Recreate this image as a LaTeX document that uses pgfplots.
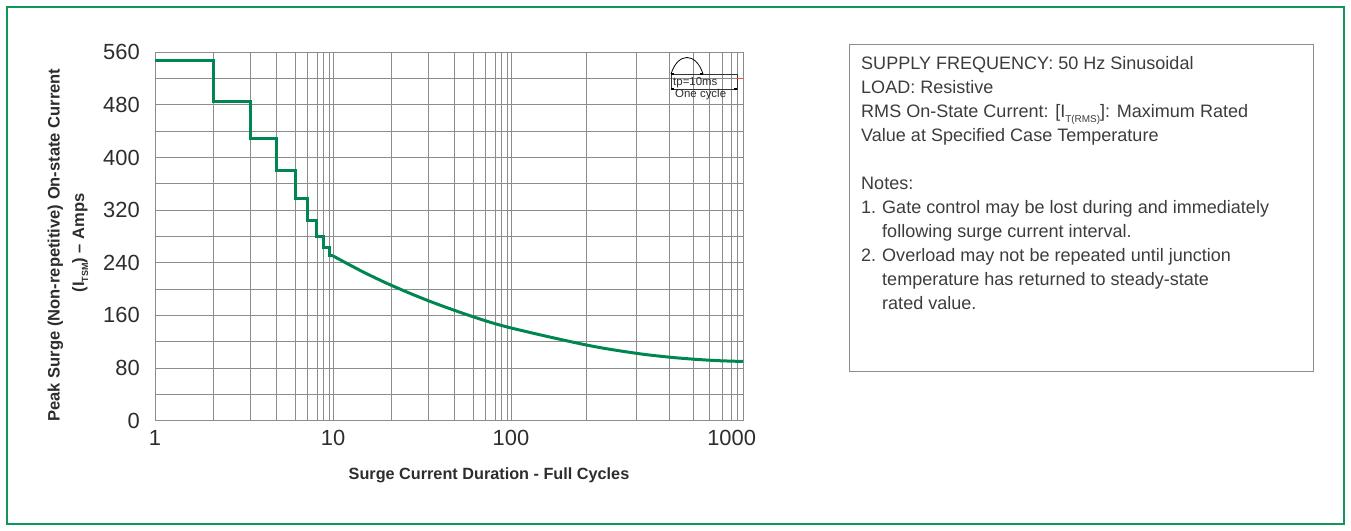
\documentclass[border=0pt]{standalone}
\usepackage{pgfplots}
\pgfplotsset{compat=1.18}
\usepackage{fontspec}
\setmainfont{Liberation Sans}
\definecolor{curvegreen}{RGB}{0,135,81}
\definecolor{framegreen}{RGB}{20,150,90}
\definecolor{gridgray}{RGB}{140,140,140}
\definecolor{txt}{RGB}{45,45,45}
\definecolor{notetxt}{RGB}{60,60,60}
\begin{document}
\begin{tikzpicture}[x=1bp,y=1bp]
\path (0,0) rectangle (1351,531);
\draw[framegreen, line width=1.5bp] (7,7) rectangle (1344,524);
\begin{axis}[
  at={(155bp,110.3bp)}, anchor=south west,
  scale only axis, width=588bp, height=368.4bp,
  x coord trafo/.code={%
    \pgfmathparse{log10(#1)}\let\mylx\pgfmathresult
    \pgfmathparse{floor(\mylx+0.0001)}\let\mydd\pgfmathresult
    \pgfmathparse{#1/(10^\mydd)}\let\mymm\pgfmathresult
    \pgfmathparse{\mymm<2 ? 0.326*(\mymm-1) : (\mymm<3 ? 0.326+0.213*(\mymm-2) : (\mymm<4 ? 0.539+0.146*(\mymm-3) : (\mymm<5 ? 0.685+0.102*(\mymm-4) : (\mymm<6 ? 0.787+0.067*(\mymm-5) : (\mymm<7 ? 0.854+0.056*(\mymm-6) : (\mymm<8 ? 0.910+0.039*(\mymm-7) : (\mymm<9 ? 0.949+0.029*(\mymm-8) : 0.978+0.022*(\mymm-9))))))))}\let\mypp\pgfmathresult
    \pgfmathparse{\mydd<2 ? \mydd+\mypp : 2+1.3034*(\mydd-2+\mypp)}%
  },
  xmin=1, xmax=1000, ymin=0, ymax=560,
  xtick={1,10,100,1000},
  xticklabels={1,10,100,{\makebox[26bp][r]{1000}}},
  minor xtick={2,3,4,5,6,7,8,9,20,30,40,50,60,70,80,90,200,300,400,500,600,700,800,900},
  ytick={0,80,...,560},
  minor ytick={40,120,...,520},
  grid=both,
  major grid style={gridgray, line width=0.9bp},
  minor grid style={gridgray, line width=0.9bp},
  axis line style={gridgray, line width=0.9bp},
  major tick length=0pt, minor tick length=0pt,
  /pgf/number format/assume math mode=true,
  tick label style={font=\fontsize{22}{22}\selectfont, text=txt, inner sep=0pt},
  yticklabel style={xshift=-15bp},
  xticklabel style={yshift=-9.3bp},
  xlabel={\bfseries Surge Current Duration - Full Cycles},
  xlabel style={at={(axis description cs:0.568,0)}, anchor=base, yshift=-58.6bp, inner sep=0pt, font=\fontsize{16.3}{18}\selectfont, text=txt},
  clip=false,
]
\addplot[curvegreen, line width=3bp, sharp plot] coordinates {
 (1,548) (2,548) (2,485) (3,485) (3,429) (4,429) (4,380) (5,380) (5,338) (6,338)
 (6,304) (7,304) (7,280) (8,280) (8,263.5) (9,263.5) (9,250.5) (10,250.5)
};
\addplot[curvegreen, line width=3bp, smooth, tension=0.55] coordinates {
 (10,250.5) (15,227) (20,206) (30,182) (50,158) (100,141)
 (200,115) (300,102.5) (400,96.5) (500,93.5) (600,92) (700,91) (1000,90)
};
\end{axis}
% y label
\node[rotate=90, anchor=base, inner sep=0pt, text=txt, font=\fontsize{16.6}{18}\selectfont\bfseries] at (59.5,286) {Peak Surge (Non-repetitive) On-state Current};
\node[rotate=90, anchor=base, inner sep=0pt, text=txt, font=\fontsize{16.6}{18}\selectfont\bfseries] at (84,288) {(I\raisebox{-4bp}{\fontsize{9}{9}\selectfont TSM}) -- Amps};
% inset
\draw[black, line width=0.8bp] (671,457) .. controls (678,479) and (696,479) .. (703,457);
\draw[black!80, line width=0.8bp] (671,442) rectangle (737,457);
\draw[black, line width=1.2bp] (671,442) -- (674,442) (734,442) -- (737,442) (671,457) -- (674,457) (700,457) -- (703,457);
\draw[red!70, line width=0.8bp] (737,453) -- (743,453);
\node[anchor=base west, inner sep=0pt, font=\fontsize{11.5}{12}\selectfont, text=txt] at (673,445) {tp=10ms};
\node[anchor=base west, inner sep=0pt, font=\fontsize{11.5}{12}\selectfont, text=txt] at (675,433.5) {One cycle};
% notes box
\draw[gridgray, line width=1bp] (849,159) rectangle (1313,486.3);
\begin{scope}[every node/.style={anchor=base west, inner sep=0pt, font=\fontsize{18.1}{24}\selectfont, text=notetxt}]
\node at (861,461.7) {SUPPLY FREQUENCY: 50 Hz Sinusoidal};
\node at (861,437.7) {LOAD: Resistive};
\node at (861,413.7) {RMS On-State Current: [I\raisebox{-5bp}{\fontsize{10}{10}\selectfont T(RMS)}]: Maximum Rated};
\node at (861,389.7) {Value at Specified Case Temperature};
\node at (861,341.7) {Notes:};
\node at (861,317.7) {1.};
\node at (882,317.7) {Gate control may be lost during and immediately};
\node at (882,293.7) {following surge current interval.};
\node at (861,269.7) {2.};
\node at (882,269.7) {Overload may not be repeated until junction};
\node at (882,245.7) {temperature has returned to steady-state};
\node at (882,221.7) {rated value.};
\end{scope}
\end{tikzpicture}
\end{document}
